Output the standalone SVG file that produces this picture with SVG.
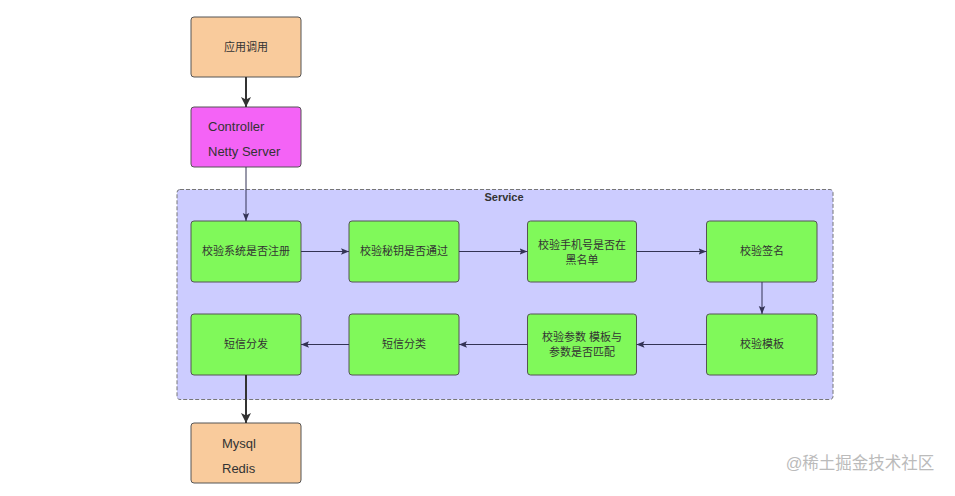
<svg xmlns="http://www.w3.org/2000/svg" width="955" height="496" viewBox="0 0 955 496">
<style>
.box{stroke:#555;stroke-width:1}
.org{fill:#F9CB9C}
.mag{fill:#F463F6}
.grn{fill:#80F95A}
.t{font-family:"Liberation Sans","Noto Sans CJK SC",sans-serif;font-size:11px;fill:#333;text-anchor:middle}
.e{font-family:"Liberation Sans","Noto Sans CJK SC",sans-serif;font-size:13px;fill:#333}
.thin{stroke:#333355;stroke-width:1;fill:none}
.thick{stroke:#333;stroke-width:2;fill:none}
</style>
<defs>
<marker id="a" viewBox="0 0 10 10" refX="10" refY="5" markerWidth="8" markerHeight="8" markerUnits="userSpaceOnUse" orient="auto"><path d="M0,1 L10,5 L0,9 L2,5 Z" fill="#333355"/></marker>
<marker id="b" viewBox="0 0 10 10" refX="10" refY="5" markerWidth="10" markerHeight="10" markerUnits="userSpaceOnUse" orient="auto"><path d="M0,0 L10,5 L0,10 L2.5,5 Z" fill="#333"/></marker>
</defs>
<rect width="955" height="496" fill="#fff"/>
<g id="service">
<rect x="177" y="189.5" width="656" height="210" rx="3" fill="#CCCCFF" stroke="#777" stroke-width="1" stroke-dasharray="4,2"/>
<text x="504" y="201" font-family="Liberation Sans,sans-serif" font-size="11" font-weight="bold" fill="#333" text-anchor="middle">Service</text>
</g>
<g id="app"><rect class="box org" x="191" y="17" width="110" height="60" rx="3"/><text class="t" x="246" y="51">应用调用</text></g>
<g id="controller"><rect class="box mag" x="191" y="107" width="110" height="60" rx="3"/><text class="e" x="208" y="131">Controller</text><text class="e" x="208" y="156">Netty Server</text></g>
<g id="n1"><rect class="box grn" x="191" y="221" width="110" height="61" rx="3"/><text class="t" x="246" y="255">校验系统是否注册</text></g>
<g id="n2"><rect class="box grn" x="349" y="221" width="110" height="61" rx="3"/><text class="t" x="404" y="255">校验秘钥是否通过</text></g>
<g id="n3"><rect class="box grn" x="527.5" y="221" width="109" height="61" rx="3"/><text class="t" x="582" y="249">校验手机号是否在</text><text class="t" x="582" y="264">黑名单</text></g>
<g id="n4"><rect class="box grn" x="706.5" y="221" width="110.5" height="61" rx="3"/><text class="t" x="762" y="255">校验签名</text></g>
<g id="n5"><rect class="box grn" x="706.5" y="314" width="110.5" height="61" rx="3"/><text class="t" x="762" y="348">校验模板</text></g>
<g id="n6"><rect class="box grn" x="527.5" y="314" width="109" height="61" rx="3"/><text class="t" x="582" y="341">校验参数 模板与</text><text class="t" x="582" y="356">参数是否匹配</text></g>
<g id="n7"><rect class="box grn" x="349" y="314" width="110" height="61" rx="3"/><text class="t" x="404" y="348">短信分类</text></g>
<g id="n8"><rect class="box grn" x="191" y="314" width="110" height="61" rx="3"/><text class="t" x="246" y="348">短信分发</text></g>
<g id="db"><rect class="box org" x="191" y="423" width="110" height="60" rx="3"/><text class="e" x="222" y="448">Mysql</text><text class="e" x="222" y="473">Redis</text></g>
<g id="connectors">
<path class="thick" d="M246,77 V107" marker-end="url(#b)"/>
<path class="thin" d="M246,167 V221" marker-end="url(#a)"/>
<path class="thin" d="M301,251.5 H349" marker-end="url(#a)"/>
<path class="thin" d="M459,251.5 H527.5" marker-end="url(#a)"/>
<path class="thin" d="M636.5,251.5 H706.5" marker-end="url(#a)"/>
<path class="thin" d="M762,282 V314" marker-end="url(#a)"/>
<path class="thin" d="M706.5,344.5 H636.5" marker-end="url(#a)"/>
<path class="thin" d="M527.5,344.5 H459" marker-end="url(#a)"/>
<path class="thin" d="M349,344.5 H301" marker-end="url(#a)"/>
<path class="thick" d="M246,375 V423" marker-end="url(#b)"/>
</g>
<text x="860" y="469" font-family="Liberation Sans,Noto Sans CJK SC,sans-serif" font-size="16.5" fill="#bbb" text-anchor="middle">@稀土掘金技术社区</text>
</svg>
